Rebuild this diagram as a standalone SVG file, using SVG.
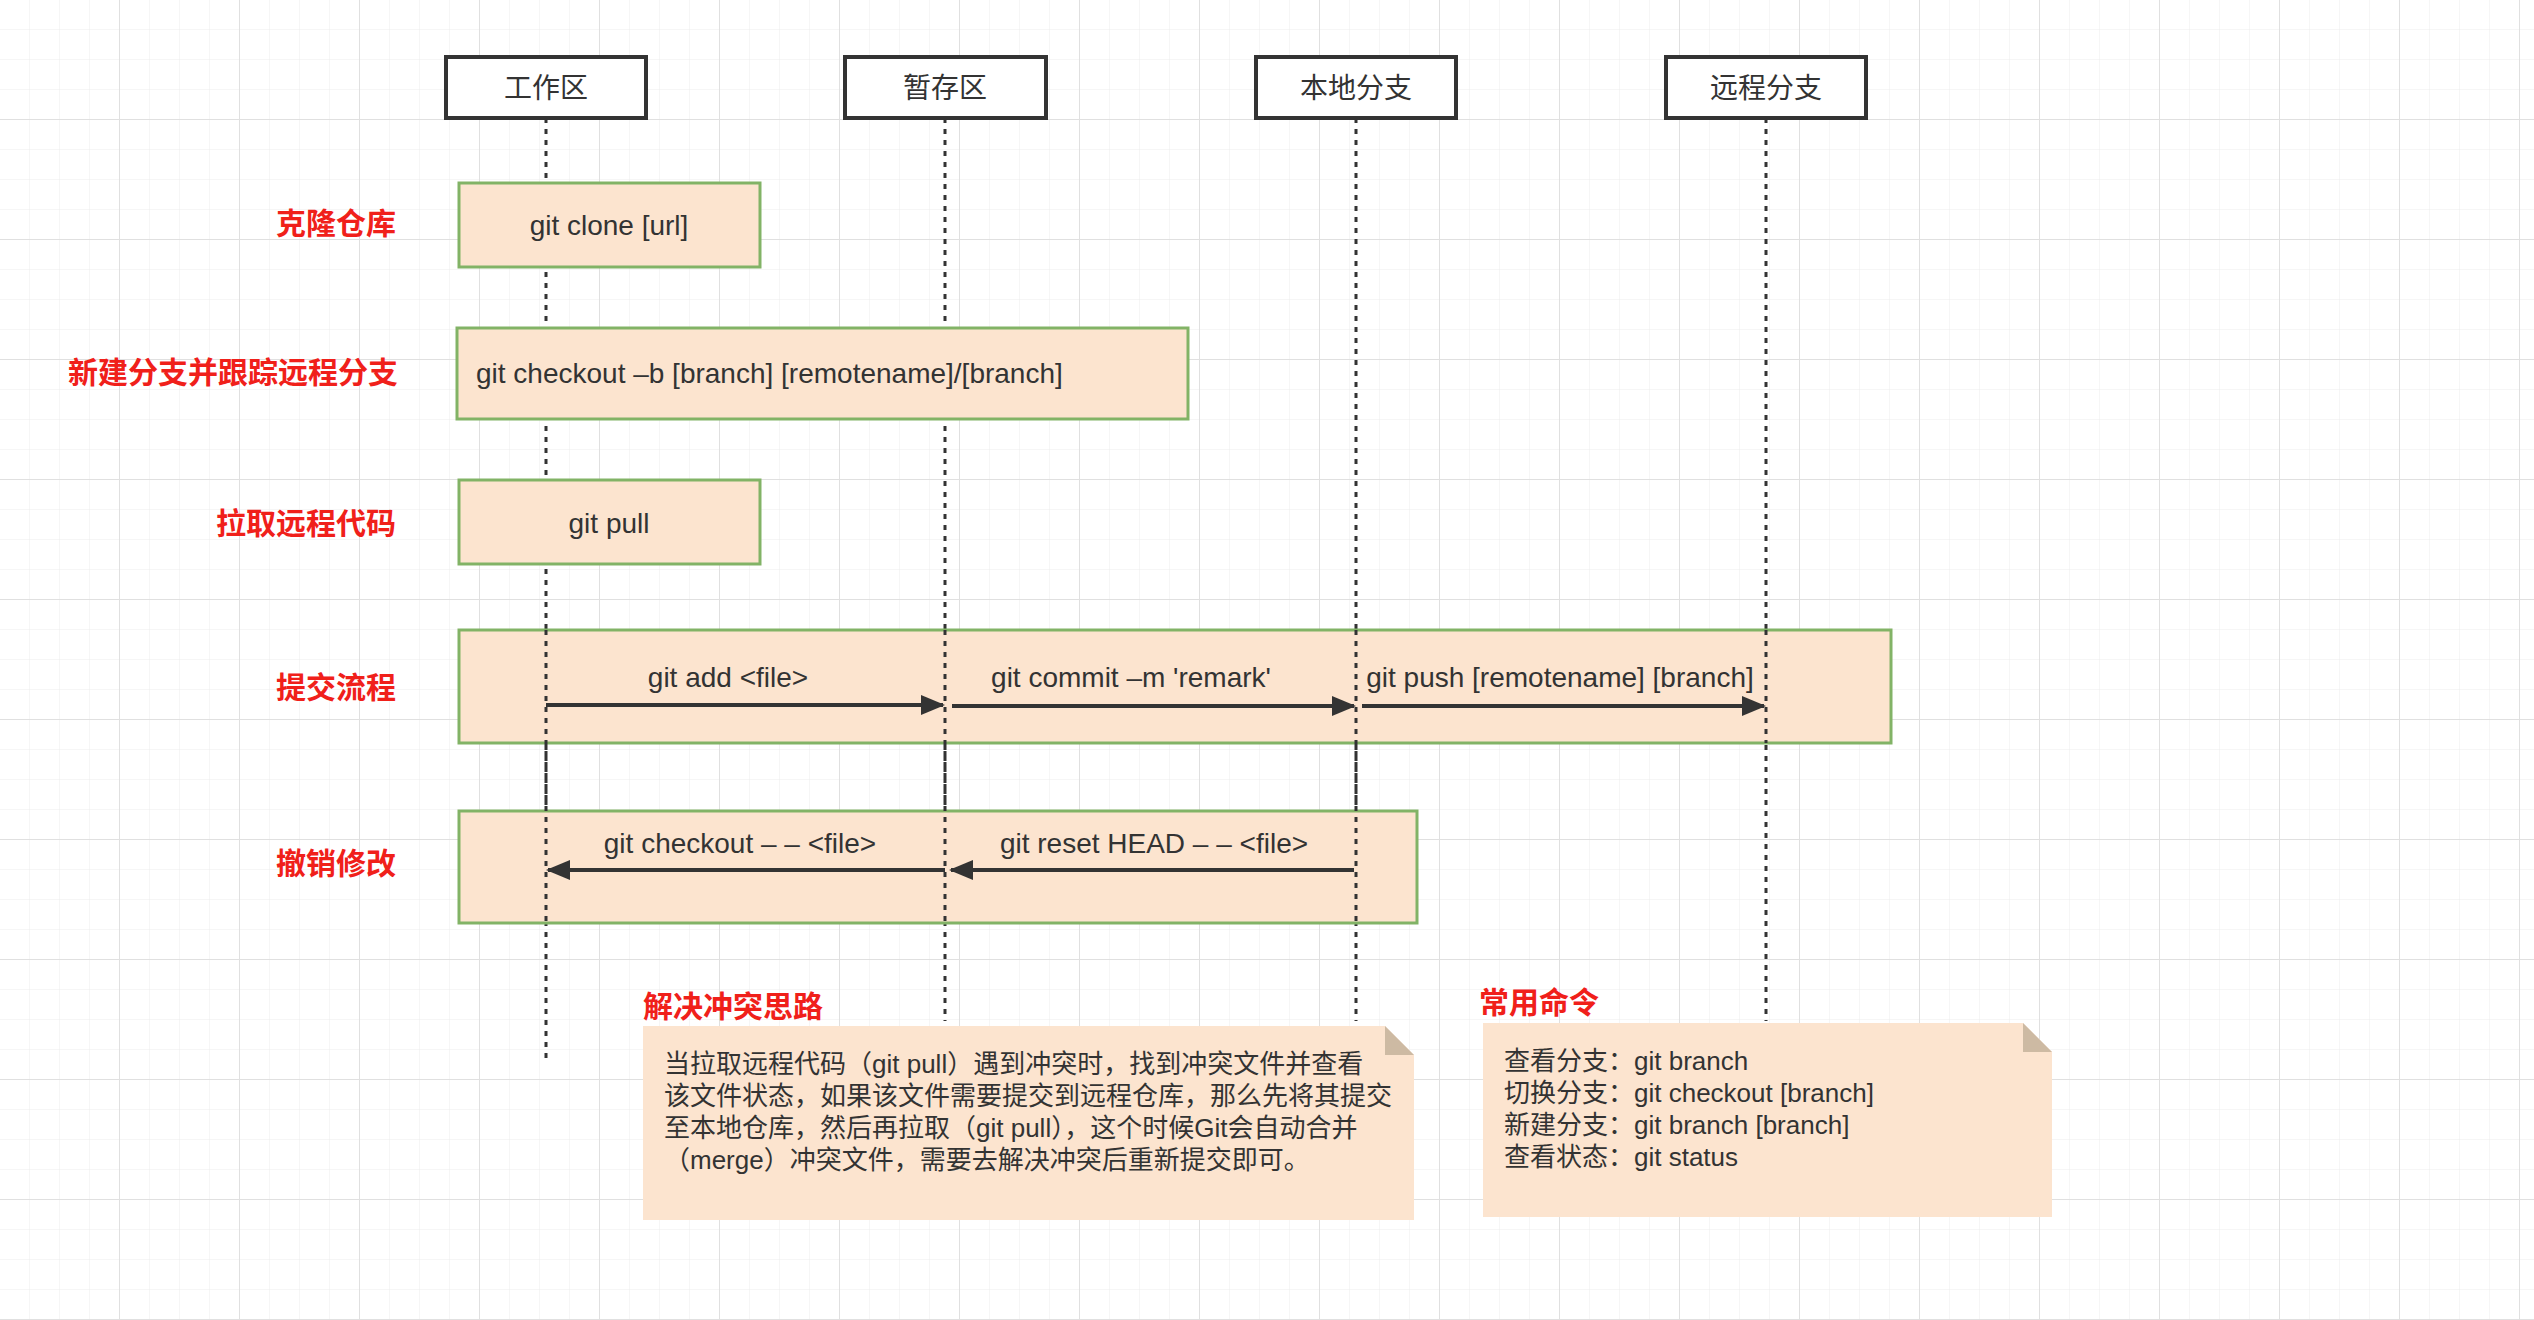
<svg xmlns="http://www.w3.org/2000/svg" width="2534" height="1320" viewBox="0 0 2534 1320">
<defs>
<pattern id="g" width="30" height="30" patternUnits="userSpaceOnUse"><path d="M30 0V30H0" fill="none" stroke="#ececec" stroke-width="1"/></pattern>
<pattern id="G" width="120" height="120" patternUnits="userSpaceOnUse"><rect width="120" height="120" fill="url(#g)"/><path d="M120 0V120H0" fill="none" stroke="#e0e0e0" stroke-width="2"/></pattern>
<marker id="a" markerWidth="24" markerHeight="20" refX="22" refY="10" orient="auto" markerUnits="userSpaceOnUse" viewBox="0 0 24 20"><path d="M0 0L24 10L0 20z" fill="#333"/></marker>
<style>
text{font-family:"Liberation Sans","Noto Sans CJK SC",sans-serif;fill:#333;font-size:28px}
.h{fill:#fff;stroke:#333;stroke-width:4}
.b{fill:#fce4cf;stroke:#82b366;stroke-width:3}
.l{stroke:#333;stroke-width:3;stroke-dasharray:5 6}
.r{fill:#f0201a;font-weight:bold;font-size:30px;text-anchor:end}
.t{fill:#f0201a;font-weight:bold;font-size:30px}
.ar{stroke:#333;stroke-width:4;fill:none}
.m{text-anchor:middle}
.n{fill:#fce4cf}
.f{fill:#cdbaa3}
.s{font-size:26px}
</style>
</defs>
<rect width="2534" height="1320" fill="#fff"/>
<rect width="2534" height="1320" fill="url(#G)"/>
<g id="lifelines">
<line class="l" x1="546" y1="118" x2="546" y2="1063"/>
<line class="l" x1="945" y1="118" x2="945" y2="1021"/>
<line class="l" x1="1356" y1="118" x2="1356" y2="1021"/>
<line class="l" x1="1766" y1="118" x2="1766" y2="1021"/>
</g>
<g id="h1"><rect class="h" x="446" y="57" width="200" height="61"/><text class="m" x="546" y="98">工作区</text></g>
<g id="h2"><rect class="h" x="845" y="57" width="201" height="61"/><text class="m" x="945" y="98">暂存区</text></g>
<g id="h3"><rect class="h" x="1256" y="57" width="200" height="61"/><text class="m" x="1356" y="98">本地分支</text></g>
<g id="h4"><rect class="h" x="1666" y="57" width="200" height="61"/><text class="m" x="1766" y="98">远程分支</text></g>
<g id="clone"><rect class="b" x="459" y="183" width="301" height="84"/><text class="m" x="609" y="235">git clone [url]</text></g>
<g id="checkoutb"><rect class="b" x="457" y="328" width="731" height="91"/><text x="476" y="383">git checkout –b [branch] [remotename]/[branch]</text></g>
<g id="pull"><rect class="b" x="459" y="480" width="301" height="84"/><text class="m" x="609" y="533">git pull</text></g>
<g id="commit"><rect class="b" x="459" y="630" width="1432" height="113"/></g>
<g id="undo"><rect class="b" x="459" y="811" width="958" height="112"/></g>
<g id="labels">
<text class="r" x="396" y="234">克隆仓库</text>
<text class="r" x="398" y="383">新建分支并跟踪远程分支</text>
<text class="r" x="396" y="534">拉取远程代码</text>
<text class="r" x="396" y="698">提交流程</text>
<text class="r" x="396" y="874">撤销修改</text>
</g>
<g id="connectors">
<line class="l" x1="546" y1="630" x2="546" y2="923"/>
<line class="l" x1="945" y1="630" x2="945" y2="923"/>
<line class="l" x1="1356" y1="630" x2="1356" y2="923"/>
<line class="l" x1="1766" y1="630" x2="1766" y2="743"/>
<path class="ar" d="M546 705H943" marker-end="url(#a)"/>
<path class="ar" d="M952 706H1354" marker-end="url(#a)"/>
<path class="ar" d="M1362 706H1764" marker-end="url(#a)"/>
<path class="ar" d="M945 870H548" marker-end="url(#a)"/>
<path class="ar" d="M1354 870H951" marker-end="url(#a)"/>
<text class="m" x="728" y="687">git add &lt;file&gt;</text>
<text class="m" x="1131" y="687">git commit –m 'remark'</text>
<text class="m" x="1560" y="687">git push [remotename] [branch]</text>
<text class="m" x="740" y="853">git checkout – – &lt;file&gt;</text>
<text class="m" x="1154" y="853">git  reset HEAD – – &lt;file&gt;</text>
</g>
<g id="note1">
<path class="n" d="M643 1026H1385L1414 1055V1220H643z"/>
<path class="f" d="M1385 1026L1414 1055H1385z"/>
<text class="t" x="643" y="1017">解决冲突思路</text>
<text class="s" x="664" y="1073">当拉取远程代码（git pull）遇到冲突时，找到冲突文件并查看</text>
<text class="s" x="664" y="1105">该文件状态，如果该文件需要提交到远程仓库，那么先将其提交</text>
<text class="s" x="664" y="1137">至本地仓库，然后再拉取（git pull），这个时候Git会自动合并</text>
<text class="s" x="664" y="1169">（merge）冲突文件，需要去解决冲突后重新提交即可。</text>
</g>
<g id="note2">
<path class="n" d="M1483 1023H2023L2052 1052V1217H1483z"/>
<path class="f" d="M2023 1023L2052 1052H2023z"/>
<text class="t" x="1479" y="1013">常用命令</text>
<text class="s" x="1504" y="1070">查看分支：git branch</text>
<text class="s" x="1504" y="1102">切换分支：git checkout [branch]</text>
<text class="s" x="1504" y="1134">新建分支：git branch [branch]</text>
<text class="s" x="1504" y="1166">查看状态：git status</text>
</g>
</svg>
